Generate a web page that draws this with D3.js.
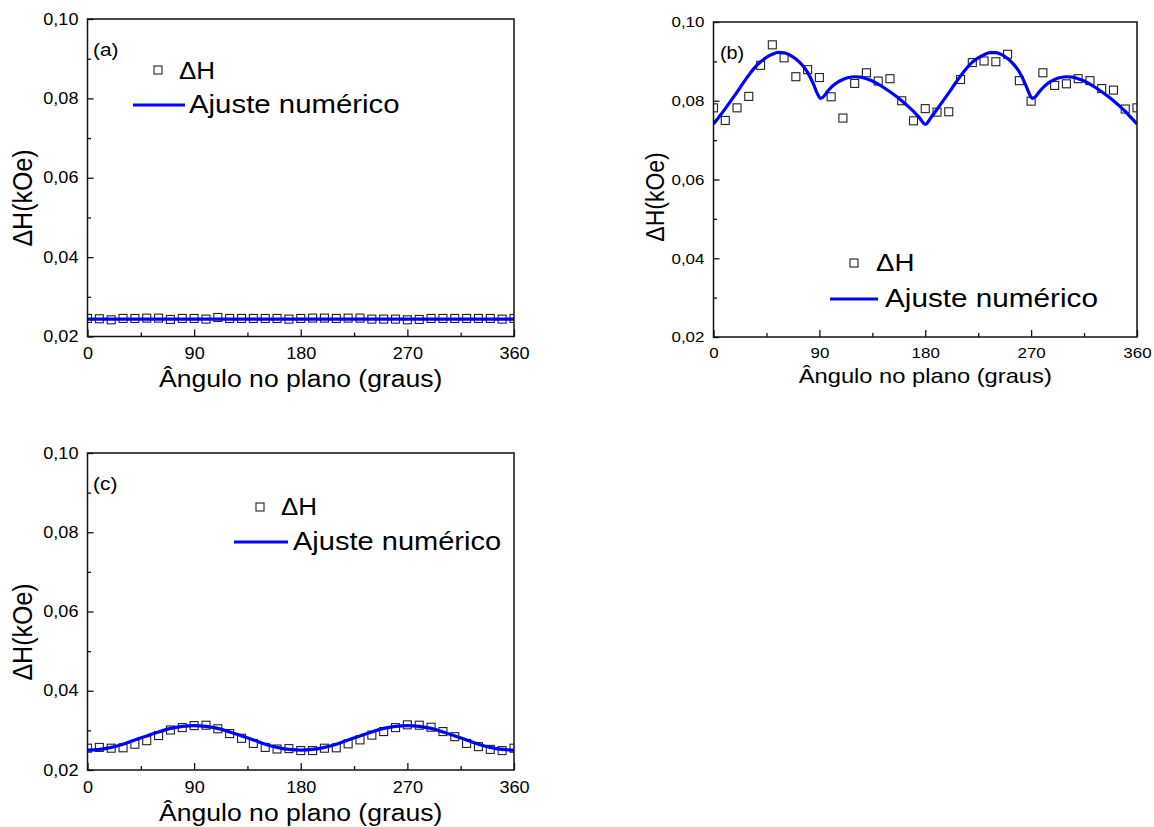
<!DOCTYPE html>
<html>
<head>
<meta charset="utf-8">
<script src="https://cdn.jsdelivr.net/npm/d3@7"></script>
<style>
  body { margin: 0; background: #fff; }
  svg { font-family: "Liberation Sans", Arial, sans-serif; }
</style>
</head>
<body>
<div id="chart"></div>
<script>
// measured angles (degrees)
const angles = [0, 10, 20, 30, 40, 50, 60, 70, 80, 90, 100, 110, 120, 130, 140, 150, 160, 170, 180,
  190, 200, 210, 220, 230, 240, 250, 260, 270, 280, 290, 300, 310, 320, 330, 340, 350, 360];

// (a) linewidth, kOe
const dHa = [0.02455, 0.02447, 0.02421, 0.02455, 0.02455, 0.02463, 0.02463, 0.0243, 0.02455, 0.02455,
  0.02438, 0.0248, 0.02455, 0.02455, 0.02455, 0.02455, 0.02455, 0.02438, 0.02455, 0.02463, 0.02463,
  0.02455, 0.02463, 0.02463, 0.02438, 0.02438, 0.02438, 0.02421, 0.0243, 0.02455, 0.02455, 0.02455,
  0.02455, 0.02455, 0.02455, 0.02438, 0.02455];
const fitAngA = [0, 60, 120, 180, 240, 300, 360];
const fitA = [0.0244, 0.0244, 0.0244, 0.0244, 0.0244, 0.0244, 0.0244];

// (b)
const dHb = [0.0782, 0.0750, 0.0782, 0.0811, 0.0890, 0.0942, 0.0909, 0.0861, 0.0879, 0.0859, 0.0810,
  0.0756, 0.0844, 0.0871, 0.0850, 0.0856, 0.0800, 0.0749, 0.0780, 0.0771, 0.0772, 0.0854, 0.0897,
  0.0901, 0.0899, 0.0918, 0.0851, 0.0799, 0.0871, 0.0839, 0.0843, 0.0856, 0.0851, 0.0831, 0.0827,
  0.0779, 0.0782];
const fitAngB = [0, 5, 10, 15, 20, 25, 30, 35, 40, 45, 50, 55, 60, 65, 70, 75, 80, 85, 88, 91, 94, 97,
  100, 105, 110, 115, 120, 125, 130, 135, 140, 145, 150, 155, 160, 165, 170, 175, 180,
  185, 190, 195, 200, 205, 210, 215, 220, 225, 230, 235, 240, 245, 250, 255, 260, 265, 268, 271, 274, 277,
  280, 285, 290, 295, 300, 305, 310, 315, 320, 325, 330, 335, 340, 345, 350, 355, 360];
const fitB = [0.0741, 0.0760, 0.0780, 0.0801, 0.0822, 0.0844, 0.0865, 0.0884, 0.0899, 0.0910, 0.0918,
  0.0923, 0.0922, 0.0916, 0.0906, 0.0892, 0.0872, 0.0842, 0.0820, 0.0806, 0.0812, 0.0824,
  0.0834, 0.0846, 0.0854, 0.0859, 0.0861, 0.0860, 0.0856, 0.0850, 0.0842, 0.0833, 0.0823, 0.0812,
  0.0800, 0.0787, 0.0773, 0.0757, 0.0740,
  0.0758, 0.0778, 0.0799, 0.0820, 0.0842, 0.0863, 0.0882, 0.0898, 0.0909, 0.0917, 0.0922, 0.0922,
  0.0917, 0.0907, 0.0893, 0.0873, 0.0843, 0.0821, 0.0806, 0.0811, 0.0823,
  0.0833, 0.0846, 0.0854, 0.0859, 0.0861, 0.0860, 0.0856, 0.0850, 0.0842, 0.0833, 0.0823, 0.0812,
  0.0800, 0.0787, 0.0773, 0.0757, 0.0741];

// (c)
const dHc = [0.0255, 0.0257, 0.0255, 0.0256, 0.0265, 0.0274, 0.0287, 0.0301, 0.0307, 0.0312, 0.0313,
  0.0304, 0.0292, 0.0280, 0.0267, 0.0257, 0.0253, 0.0254, 0.0249, 0.0249, 0.0255, 0.0256, 0.0266,
  0.0276, 0.0288, 0.0297, 0.0307, 0.0314, 0.0313, 0.0308, 0.0297, 0.0284, 0.0267, 0.0259, 0.0252,
  0.0249, 0.0255];
const fitAngC = angles;
const fitC = [0.0250, 0.0252, 0.0257, 0.0265, 0.0276, 0.0286, 0.0296, 0.0305, 0.0310, 0.0312, 0.0310,
  0.0305, 0.0296, 0.0286, 0.0276, 0.0265, 0.0257, 0.0252, 0.0250, 0.0252, 0.0257, 0.0265, 0.0276,
  0.0286, 0.0296, 0.0305, 0.0310, 0.0312, 0.0310, 0.0305, 0.0296, 0.0286, 0.0276, 0.0265, 0.0257,
  0.0252, 0.0250];

const xTicks = [0, 90, 180, 270, 360];
const xMinor = [45, 135, 225, 315];
const yTicks = [0.02, 0.04, 0.06, 0.08, 0.10];
const yMinor = [0.03, 0.05, 0.07, 0.09];

const xTitle = 'Ângulo no plano (graus)';
const yTitle = 'ΔH(kOe)';
const legendPts = 'ΔH';
const legendFit = 'Ajuste numérico';

const SX = 1.13; // the original lettering is a bit wide
const blue = '#0000ff';
const ink = '#111';

const zip = (xs, ys) => xs.map((x, i) => ({x, y: ys[i]}));
const commaFmt = v => d3.format('.2f')(v).replace('.', ',');

const text = (g, x, y, str, size, anchor = 'start') =>
  g.append('text')
    .attr('transform', `translate(${x},${y}) scale(${SX},1)`)
    .attr('font-size', size)
    .attr('text-anchor', anchor)
    .attr('fill', '#000')
    .text(str);

const svg = d3.select('#chart')
  .append('svg')
    .attr('width', 1154)
    .attr('height', 827);

const square = (g, cx, cy) =>
  g.append('rect')
    .attr('x', cx - 4).attr('y', cy - 4)
    .attr('width', 8).attr('height', 8)
    .attr('fill', 'none')
    .attr('stroke', '#222')
    .attr('stroke-width', 1.1);

// Renders one panel
const panel = (p) => {
  const g = svg.append('g');

  const x = d3.scaleLinear().domain([0, 360]).range([p.left, p.right]);
  const y = d3.scaleLinear().domain([0.02, 0.10]).range([p.bottom, p.top]);

  g.append('clipPath').attr('id', 'clip-' + p.id)
    .append('rect')
      .attr('x', p.left).attr('y', p.top)
      .attr('width', p.right - p.left).attr('height', p.bottom - p.top);

  const plot = g.append('g').attr('clip-path', `url(#clip-${p.id})`);

  plot.selectAll('.pt')
    .data(zip(angles, p.dH))
    .enter()
      .append('rect')
      .attr('class', 'pt')
      .attr('x', d => x(d.x) - 4)
      .attr('y', d => y(d.y) - 4)
      .attr('width', 8).attr('height', 8)
      .attr('fill', 'none')
      .attr('stroke', '#222')
      .attr('stroke-width', 1.1);

  const line = d3.line()
    .x(d => x(d.x))
    .y(d => y(d.y))
    .curve(d3.curveMonotoneX);

  plot.append('path')
    .attr('d', line(zip(p.fitX, p.fitY)))
    .attr('fill', 'none')
    .attr('stroke', blue)
    .attr('stroke-width', 3.2);

  // axes, ticks pointing inward
  const xAxis = g.append('g')
    .attr('transform', `translate(0,${p.bottom})`)
    .call(d3.axisBottom(x).tickValues(xTicks).tickSize(-7).tickSizeOuter(0)
      .tickPadding(p.tick * 0.72).tickFormat(d3.format('d')));
  g.append('g')
    .attr('transform', `translate(0,${p.bottom})`)
    .call(d3.axisBottom(x).tickValues(xMinor).tickSize(-4).tickSizeOuter(0).tickFormat(''));

  const yAxis = g.append('g')
    .attr('transform', `translate(${p.left},0)`)
    .call(d3.axisLeft(y).tickValues(yTicks).tickSize(-6).tickSizeOuter(0)
      .tickPadding(8).tickFormat(commaFmt));
  g.append('g')
    .attr('transform', `translate(${p.left},0)`)
    .call(d3.axisLeft(y).tickValues(yMinor).tickSize(-3.5).tickSizeOuter(0).tickFormat(''));

  g.selectAll('.domain').remove();
  g.selectAll('.tick line').attr('stroke', ink).attr('stroke-width', 1.3);
  [xAxis, yAxis].forEach(a => a.selectAll('text')
    .attr('font-size', p.tick)
    .attr('font-family', '"Liberation Sans", Arial, sans-serif')
    .attr('fill', '#000')
    .attr('transform', `scale(${SX},1)`));

  g.append('rect')
    .attr('x', p.left).attr('y', p.top)
    .attr('width', p.right - p.left).attr('height', p.bottom - p.top)
    .attr('fill', 'none')
    .attr('stroke', ink)
    .attr('stroke-width', 1.5);

  // titles
  text(g, (p.left + p.right) / 2, p.titleY, xTitle, p.title, 'middle');
  g.append('text')
    .attr('transform', `translate(${p.ytX},${p.ytY}) scale(${SX},1) rotate(-90)`)
    .attr('font-size', p.ytSize)
    .attr('text-anchor', 'middle')
    .text(yTitle);

  text(g, p.tag.x, p.tag.y, `(${p.id})`, p.tag.size);

  // legend
  const L = p.legend;
  square(g, L.sq[0], L.sq[1]);
  text(g, L.dhX, L.dhY, legendPts, L.dhSize);
  g.append('line')
    .attr('x1', L.line[0]).attr('x2', L.line[1])
    .attr('y1', L.lineY).attr('y2', L.lineY)
    .attr('stroke', blue).attr('stroke-width', 3.2);
  text(g, L.ajX, L.ajY, legendFit, L.ajSize);
};

const panels = [
  {id: 'a', left: 87.5, right: 514, top: 19, bottom: 336.5, dH: dHa, fitX: fitAngA, fitY: fitA,
    tick: 16, title: 23.5, titleY: 387, ytX: 32, ytY: 198, ytSize: 25,
    tag: {x: 93, y: 56, size: 18.5},
    legend: {sq: [158, 70], dhX: 179, dhY: 79, dhSize: 23, line: [133, 185], lineY: 105, ajX: 189, ajY: 113, ajSize: 26}},
  {id: 'b', left: 713.5, right: 1137, top: 22, bottom: 337, dH: dHb, fitX: fitAngB, fitY: fitB,
    tick: 15, title: 21, titleY: 383, ytX: 664, ytY: 197, ytSize: 23,
    tag: {x: 720, y: 59, size: 17.5},
    legend: {sq: [854, 263], dhX: 876, dhY: 271, dhSize: 24.5, line: [830, 878], lineY: 299, ajX: 885, ajY: 307, ajSize: 26.3}},
  {id: 'c', left: 87.5, right: 514, top: 453, bottom: 770, dH: dHc, fitX: fitAngC, fitY: fitC,
    tick: 16, title: 23.5, titleY: 821, ytX: 32, ytY: 632, ytSize: 25,
    tag: {x: 93, y: 490, size: 18.5},
    legend: {sq: [260, 507], dhX: 281, dhY: 515, dhSize: 23, line: [234, 288], lineY: 542, ajX: 293, ajY: 550, ajSize: 25.7}}
];

panels.forEach(panel);
</script>
</body>
</html>
